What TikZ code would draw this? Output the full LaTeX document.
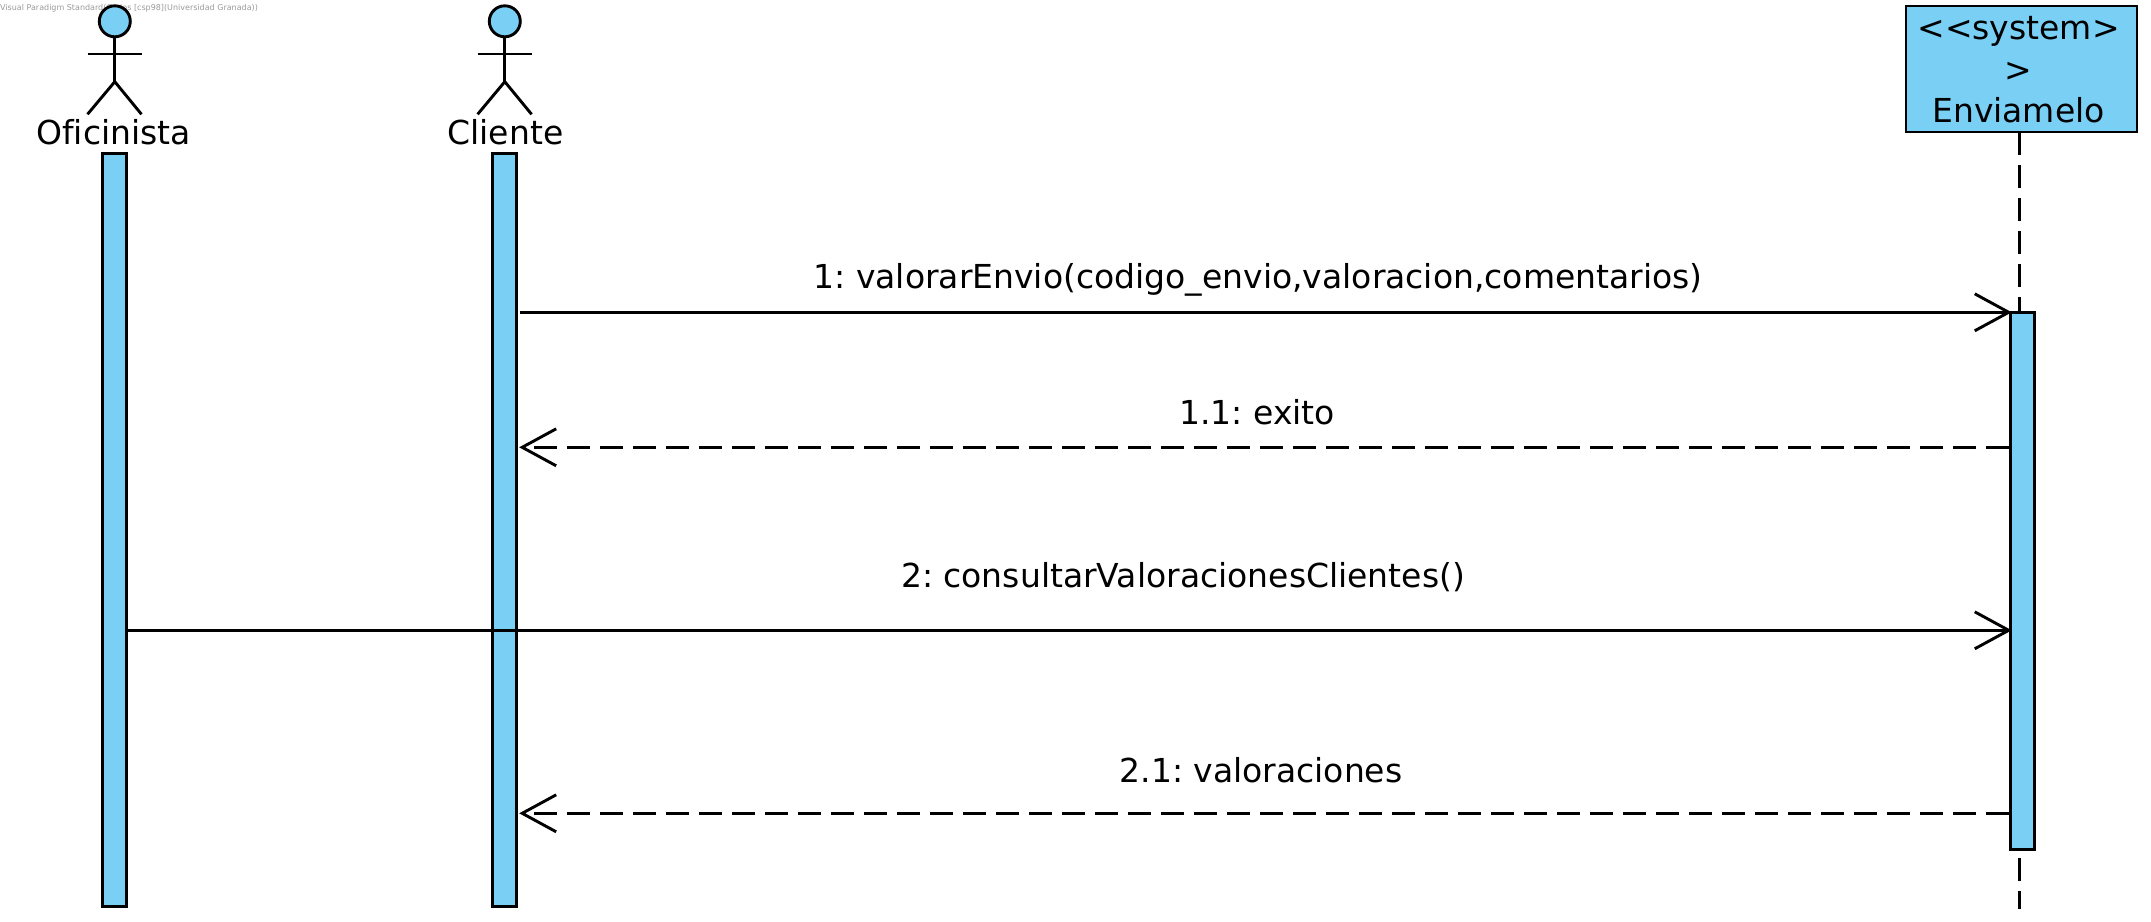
\documentclass[tikz,border=0pt]{standalone}
\usepackage{fontspec}
\setmainfont[Ligatures=NoCommon]{DejaVu Sans}
\usetikzlibrary{arrows.meta,shapes.geometric}
\definecolor{umlblue}{HTML}{7ACFF5}
\definecolor{wmgray}{HTML}{9A9A9A}
\tikzset{
  x=1pt,y=-1pt,
  line/.style={line width=2.9pt,draw=black},
  bar/.style={draw=black,line width=2.9pt,fill=umlblue,rectangle,inner sep=0pt,minimum width=24.4pt,anchor=north},
  lbl/.style={inner sep=0pt,anchor=base,font=\fontsize{33}{42}\selectfont\frenchspacing},
  open/.style={-{Straight Barb[length=34pt,width=37pt,line width=2.9pt]}},
  msg/.style={line,open},
  ret/.style={line,open,dash pattern=on 23pt off 10pt},
  life/.style={line,dash pattern=on 23pt off 10pt},
  head/.style={ellipse,draw=black,line width=2.9pt,fill=umlblue,minimum width=31pt,minimum height=31pt,inner sep=0pt},
}
\begin{document}
\begin{tikzpicture}
\useasboundingbox (0,0) rectangle (2151,921);
% watermark
\node[inner sep=0pt,anchor=base west,text=wmgray,font=\fontsize{8}{9}\selectfont\frenchspacing] (wm) at (0,10) {Visual Paradigm Standard(Carlos [csp98](Universidad Granada))};
% actors
\node[head] (h1) at (114.8,21.3) {};
\node[head] (h2) at (504.8,21.3) {};
\coordinate (hip1) at (114.8,81.7);
\coordinate (hip2) at (504.8,81.7);
\coordinate (al1) at (87.5,54); \coordinate (ar1) at (141.5,54);
\coordinate (al2) at (477.6,54); \coordinate (ar2) at (531.6,54);
\coordinate (fl1) at (87.5,114.3); \coordinate (fr1) at (141.5,114.3);
\coordinate (fl2) at (477.6,114.3); \coordinate (fr2) at (531.6,114.3);
\draw[line] (h1.south) -- (hip1); \draw[line] (al1) -- (ar1); \draw[line] (fl1) -- (hip1) -- (fr1);
\draw[line] (h2.south) -- (hip2); \draw[line] (al2) -- (ar2); \draw[line] (fl2) -- (hip2) -- (fr2);
\node[lbl] (n1) at (113.5,144) {Oficinista};
\node[lbl] (n2) at (505.5,144) {Cliente};
% system box
\node[rectangle,draw=black,line width=2.9pt,fill=umlblue,minimum width=231pt,minimum height=126pt,inner sep=0pt,anchor=north west] (sys) at (1904.5,4.5) {};
\node[inner sep=0pt,anchor=base,align=center,font=\fontsize{33}{41.5}\selectfont] (syst) at (2018.5,122.5) {<{}<system>\\>\\Enviamelo};
% lifeline
\coordinate (lifeend) at (2019.3,909);
\coordinate (lifetop) at (2019.3,132);
\draw[life] (lifetop) -- (lifeend);
% bars
\path (114.5,152) node[bar,minimum height=753pt] (b1) {};
\path (504.5,152) node[bar,minimum height=753pt] (b2) {};
\path (2022.4,311) node[bar,minimum height=537pt] (b3) {};
% messages
\coordinate (y1) at (0,312.3);
\coordinate (y11) at (0,447.3);
\coordinate (y2) at (0,630.3);
\coordinate (y21) at (0,813.3);
\draw[msg] ([xshift=1.5pt]b2.east |- y1) -- ([xshift=3pt]b3.west |- y1);
\draw[ret] (b3.west |- y11) -- ([xshift=1pt]b2.east |- y11);
\draw[msg] (b1.east |- y2) -- ([xshift=3pt]b3.west |- y2);
\draw[ret] (b3.west |- y21) -- ([xshift=1pt]b2.east |- y21);
\node[lbl] (m1) at (1258,288.5) {1: valorarEnvio(codigo\_envio,valoracion,comentarios)};
\node[lbl] (m11) at (1257,424) {1.1: exito};
\node[lbl] (m2) at (1183,587) {2: consultarValoracionesClientes()};
\node[lbl] (m21) at (1261,782) {2.1: valoraciones};
\end{tikzpicture}
\end{document}
